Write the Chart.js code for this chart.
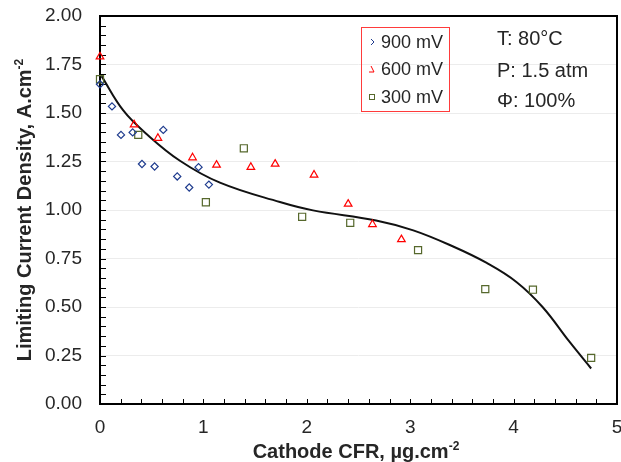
<!DOCTYPE html>
<html>
<head>
<meta charset="utf-8">
<script src="https://cdn.jsdelivr.net/npm/chart.js@4.4.0/dist/chart.umd.min.js"></script>
<style>
  body { margin: 0; background: #fff; }
  canvas { display: block; }
</style>
</head>
<body>
<canvas id="chart" width="621" height="462"></canvas>
<script>
// values
const cfr900 = [0, 0.116, 0.203, 0.316, 0.406, 0.528, 0.612, 0.747, 0.863, 0.953, 1.053];
const lcd900 = [1.648, 1.534, 1.387, 1.400, 1.237, 1.224, 1.413, 1.173, 1.116, 1.221, 1.131];

const cfr600 = [0, 0.33, 0.56, 0.895, 1.127, 1.459, 1.694, 2.07, 2.40, 2.635, 2.915];
const lcd600 = [1.79, 1.44, 1.37, 1.27, 1.232, 1.221, 1.237, 1.181, 1.031, 0.926, 0.848];

const cfr300 = [0, 0.37, 1.024, 1.391, 1.955, 2.42, 3.076, 3.726, 4.187, 4.75];
const lcd300 = [1.674, 1.387, 1.04, 1.318, 0.965, 0.934, 0.793, 0.592, 0.589, 0.238];

// fitted curve
const fitX = [0.015, 0.225, 0.45, 0.773, 1.16, 1.74, 2.06, 2.67, 3.03, 3.41, 3.74, 4.03, 4.28, 4.54, 4.75];
const fitY = [1.69, 1.513, 1.392, 1.254, 1.141, 1.041, 0.998, 0.946, 0.895, 0.813, 0.727, 0.628, 0.50, 0.321, 0.183];

const xTicks = ['0', '1', '2', '3', '4', '5'];
const yTicks = ['0.00', '0.25', '0.50', '0.75', '1.00', '1.25', '1.50', '1.75', '2.00'];

const seriesNames = ['900 mV', '600 mV', '300 mV'];
const notes = ['T: 80\u00B0C', 'P: 1.5 atm', '\u03A6: 100%'];

const BLUE = '#1f3c8e';
const RED = '#ff0000';
const GREEN = '#56682c';
const TEXT = '#262626';
const FONT = '"Liberation Sans", Arial, sans-serif';

function pairs(xs, ys) {
  return xs.map((x, i) => ({ x: x, y: ys[i] }));
}

// inside ticks + black frame
const frame = {
  id: 'frame',
  beforeDatasetsDraw(chart) {
    const { ctx, chartArea: a, scales } = chart;
    ctx.save();
    ctx.strokeStyle = '#000';
    ctx.lineWidth = 1;
    ctx.beginPath();
    for (let v = 0; v <= 2.0001; v += 0.05) {
      const y = Math.round(scales.y.getPixelForValue(v)) + 0.5;
      ctx.moveTo(a.left, y);
      ctx.lineTo(a.left + 6, y);
    }
    for (let v = 0; v <= 5.0001; v += 0.2) {
      const x = Math.round(scales.x.getPixelForValue(v)) + 0.5;
      ctx.moveTo(x, a.bottom);
      ctx.lineTo(x, a.bottom - 5);
    }
    ctx.stroke();
    ctx.lineWidth = 2;
    ctx.strokeRect(a.left, a.top, a.right - a.left, a.bottom - a.top);
    ctx.restore();
  }
};

// axis titles with superscripts, legend box and the condition notes
function supText(ctx, base, sup, x, y, size) {
  ctx.font = 'bold ' + size + 'px ' + FONT;
  const w1 = ctx.measureText(base).width;
  ctx.font = 'bold ' + Math.round(size * 0.62) + 'px ' + FONT;
  const w2 = ctx.measureText(sup).width;
  const start = x - (w1 + w2) / 2;
  ctx.font = 'bold ' + size + 'px ' + FONT;
  ctx.fillText(base, start, y);
  ctx.font = 'bold ' + Math.round(size * 0.62) + 'px ' + FONT;
  ctx.fillText(sup, start + w1, y - size * 0.38);
}

const extras = {
  id: 'extras',
  afterDraw(chart) {
    const { ctx } = chart;
    ctx.save();
    ctx.fillStyle = TEXT;
    ctx.textAlign = 'left';
    ctx.textBaseline = 'alphabetic';
    supText(ctx, 'Cathode CFR, \u00B5g.cm', '-2', 356, 458, 20);

    ctx.save();
    ctx.translate(31, 210);
    ctx.rotate(-Math.PI / 2);
    supText(ctx, 'Limiting Current Density, A.cm', '-2', 0, 0, 20);
    ctx.restore();

    // legend
    ctx.strokeStyle = '#ff3b3b';
    ctx.lineWidth = 1;
    ctx.strokeRect(361.5, 27.5, 88, 84);
    const ys = [42, 69, 97];
    ctx.font = '18px ' + FONT;
    ctx.textBaseline = 'middle';
    ctx.fillStyle = TEXT;
    seriesNames.forEach((n, i) => ctx.fillText(n, 381, ys[i] + 1));
    ctx.lineWidth = 1;
    // tiny clipped markers as in the original
    ctx.strokeStyle = BLUE;
    ctx.beginPath();
    ctx.moveTo(371, 39); ctx.lineTo(374, 42); ctx.lineTo(371, 45);
    ctx.stroke();
    ctx.strokeStyle = RED;
    ctx.beginPath();
    ctx.moveTo(371, 66); ctx.lineTo(374, 72); ctx.lineTo(369, 72);
    ctx.stroke();
    ctx.strokeStyle = GREEN;
    ctx.strokeRect(369.5, 94.5, 5, 5);

    // notes
    ctx.fillStyle = TEXT;
    ctx.font = '20px ' + FONT;
    notes.forEach((t, i) => ctx.fillText(t, 497, [38, 70, 100][i] + 1));
    ctx.restore();
  }
};

new Chart(document.getElementById('chart'), {
  type: 'scatter',
  data: {
    datasets: [
      {
        label: seriesNames[0],
        data: pairs(cfr900, lcd900),
        pointStyle: 'rectRot',
        pointRadius: 3.6,
        borderColor: BLUE,
        backgroundColor: 'rgba(255,255,255,0)',
        borderWidth: 1.2,
        clip: false,
      },
      {
        label: seriesNames[1],
        data: pairs(cfr600, lcd600),
        pointStyle: 'triangle',
        pointRadius: 4.4,
        borderColor: RED,
        backgroundColor: 'rgba(255,255,255,0)',
        borderWidth: 1.2,
        clip: false,
      },
      {
        label: seriesNames[2],
        data: pairs(cfr300, lcd300),
        pointStyle: 'rect',
        pointRadius: 5,
        borderColor: GREEN,
        backgroundColor: 'rgba(255,255,255,0)',
        borderWidth: 1.2,
        clip: false,
      },
      {
        label: 'fit',
        type: 'line',
        data: pairs(fitX, fitY),
        showLine: true,
        pointRadius: 0,
        borderColor: '#111',
        borderWidth: 2,
        fill: false,
        tension: 0.4,
        order: 10,
      },
    ],
  },
  options: {
    responsive: false,
    animation: false,
    layout: { autoPadding: false, padding: { top: 16, right: 4, left: 0, bottom: 0 } },
    plugins: {
      legend: { display: false },
      tooltip: { enabled: false },
    },
    scales: {
      x: {
        type: 'linear',
        min: 0,
        max: 5,
        afterFit: (s) => { s.height = 58; s.paddingLeft = 0; s.paddingRight = 0; },
        afterBuildTicks: (s) => { s.ticks = xTicks.map(Number).map((v) => ({ value: v })); },
        ticks: {
          padding: 12,
          color: TEXT,
          font: { family: FONT, size: 19 },
          callback: (v) => xTicks[Math.round(v)],
        },
        grid: { display: false, drawTicks: false },
        border: { display: false },
      },
      y: {
        type: 'linear',
        min: 0,
        max: 2,
        afterFit: (s) => { s.width = 100; s.paddingTop = 0; s.paddingBottom = 0; },
        afterBuildTicks: (s) => { s.ticks = yTicks.map(Number).map((v) => ({ value: v })); },
        ticks: {
          padding: 18,
          color: TEXT,
          font: { family: FONT, size: 19 },
          callback: (v) => yTicks[Math.round(v * 4)],
        },
        grid: { color: '#ececec', lineWidth: 1, drawTicks: false },
        border: { display: false },
      },
    },
  },
  plugins: [frame, extras],
});
</script>
</body>
</html>
